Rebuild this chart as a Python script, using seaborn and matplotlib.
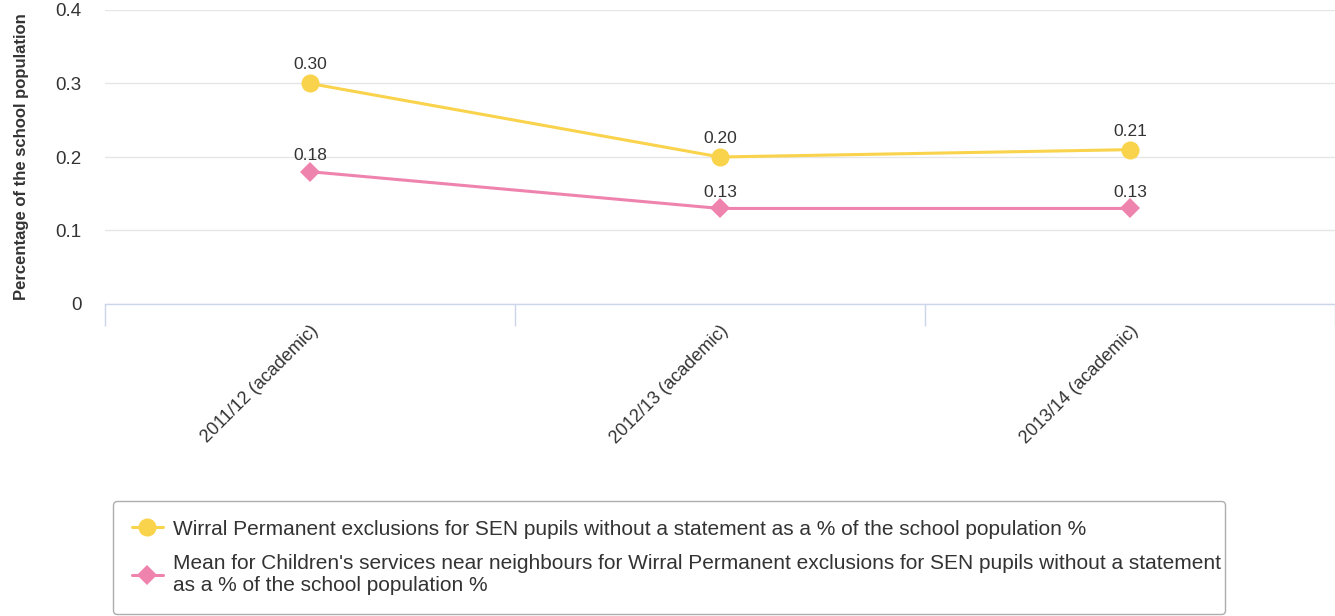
import matplotlib
matplotlib.use("Agg")
import matplotlib.pyplot as plt
import seaborn as sns
import pandas as pd
from matplotlib.lines import Line2D

categories = ["2011/12 (academic)", "2012/13 (academic)", "2013/14 (academic)"]
wirral = [0.30, 0.20, 0.21]
neighbours = [0.18, 0.13, 0.13]
series_names = [
    "Wirral Permanent exclusions for SEN pupils without a statement as a % of the school population %",
    "Mean for Children's services near neighbours for Wirral Permanent exclusions for SEN pupils without a statement\nas a % of the school population %",
]
yticks = [0, 0.1, 0.2, 0.3, 0.4]
ytick_labels = ["0", "0.1", "0.2", "0.3", "0.4"]

YELLOW = "#FAD34C"
PINK = "#EE84AE"
TXT = "#333333"

sns.set_theme(style="white")
plt.rcParams["font.family"] = ["Liberation Sans", "DejaVu Sans"]

fig = plt.figure(figsize=(13.35, 6.16), dpi=100)
ax = fig.add_axes([105 / 1335, 1 - 304 / 616, 1 - 105 / 1335, (304 - 10) / 616])

df = pd.DataFrame({"x": list(range(len(categories))), "wirral": wirral, "nn": neighbours})
sns.lineplot(data=df, x="x", y="wirral", ax=ax, color=YELLOW, linewidth=2.2,
             marker="o", markersize=13, markeredgewidth=0, zorder=4)
sns.lineplot(data=df, x="x", y="nn", ax=ax, color=PINK, linewidth=2.2,
             marker="D", markersize=10, markeredgewidth=0, zorder=3)

for i, v in enumerate(wirral):
    ax.annotate(f"{v:.2f}", (i, v), xytext=(0, 8), textcoords="offset points",
                ha="center", va="bottom", fontsize=12.5, color=TXT)
for i, v in enumerate(neighbours):
    ax.annotate(f"{v:.2f}", (i, v), xytext=(0, 6), textcoords="offset points",
                ha="center", va="bottom", fontsize=12.5, color=TXT)

ax.set_xlim(-0.5, len(categories) - 0.5)
ax.set_ylim(0, 0.4)
ax.set_yticks(yticks)
ax.set_yticklabels(ytick_labels, fontsize=13.5, color=TXT)
ax.yaxis.grid(True, color="#e6e6e6", linewidth=1)
ax.set_axisbelow(True)

ax.set_xticks(range(len(categories)))
ax.set_xticklabels(categories, rotation=45, ha="right", rotation_mode="anchor",
                   fontsize=13, color=TXT)
ax.tick_params(axis="x", which="major", length=0, pad=13, bottom=True)
ax.set_xticks([i - 0.5 for i in range(len(categories) + 1)], minor=True)
ax.tick_params(axis="x", which="minor", length=16, color="#ccd6eb", width=1,
               bottom=True, direction="out")
ax.tick_params(axis="y", length=0, pad=17)

for s in ["top", "right", "left"]:
    ax.spines[s].set_visible(False)
ax.spines["bottom"].set_color("#ccd6eb")
ax.spines["bottom"].set_linewidth(1)

ax.set_xlabel("")
ax.set_ylabel("Percentage of the school population", fontsize=12, fontweight="bold",
              color=TXT, labelpad=19)

handles = [
    Line2D([0], [0], color=YELLOW, lw=2.2, marker="o", markersize=13, markeredgewidth=0),
    Line2D([0], [0], color=PINK, lw=2.2, marker="D", markersize=10, markeredgewidth=0),
]
leg = fig.legend(handles, series_names, loc="lower left",
                 bbox_to_anchor=(113 / 1335, 1 - 614 / 616, (1225 - 113) / 1335, 111 / 616),
                 mode="expand", fontsize=15, frameon=True, fancybox=True,
                 edgecolor="#999999", handlelength=1.5, handletextpad=0.5,
                 labelspacing=0.75, borderpad=0.9, borderaxespad=0, labelcolor=TXT)
leg.get_frame().set_linewidth(1)

fig.savefig("out.png", dpi=100)
